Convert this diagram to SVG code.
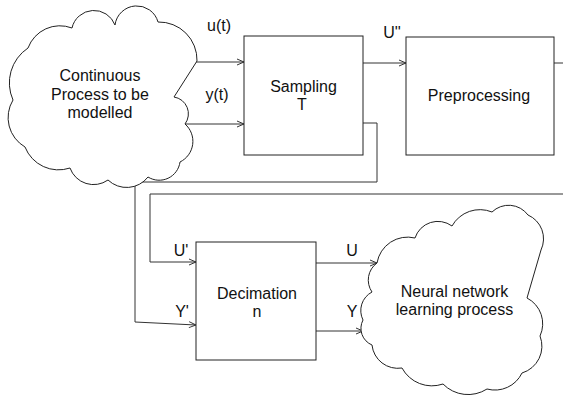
<svg xmlns="http://www.w3.org/2000/svg" width="563" height="398" viewBox="0 0 563 398">
<style>
  .txt { font-family: "Liberation Sans", Arial, sans-serif; font-size: 16px; fill: #111; text-anchor: middle; }
  .shape { fill: #fff; stroke: #222; stroke-width: 1; }
  .line { fill: none; stroke: #333; stroke-width: 1; }
</style>
<defs>
  <marker id="arr" viewBox="0 0 8 8" refX="8" refY="4" markerWidth="8" markerHeight="8" markerUnits="userSpaceOnUse" orient="auto">
    <polyline points="1,1 8,4 1,7" fill="none" stroke="#333" stroke-width="1"/>
  </marker>
</defs>
<rect width="563" height="398" fill="#fff"/>

<g id="connectors">
  <line class="line" x1="196" y1="62" x2="244" y2="62" marker-end="url(#arr)"/>
  <line class="line" x1="185" y1="124" x2="244" y2="124" marker-end="url(#arr)"/>
  <line class="line" x1="363" y1="63" x2="406" y2="63" marker-end="url(#arr)"/>
  <line class="line" x1="554" y1="63" x2="563" y2="63"/>
  <polyline class="line" points="363,123 377,123 377,182 135,182 135,322 196,325" marker-end="url(#arr)"/>
  <polyline class="line" points="563,194 150,194 150,262 196,262" marker-end="url(#arr)"/>
  <line class="line" x1="316" y1="263" x2="377" y2="263" marker-end="url(#arr)"/>
  <line class="line" x1="316" y1="331" x2="363" y2="331" marker-end="url(#arr)"/>
  <text class="txt" x="219" y="31">u(t)</text>
  <text class="txt" x="217" y="100">y(t)</text>
  <text class="txt" x="392" y="38">U''</text>
  <text class="txt" x="181" y="256">U'</text>
  <text class="txt" x="182" y="317">Y'</text>
  <text class="txt" x="352" y="256">U</text>
  <text class="txt" x="352" y="317">Y</text>
</g>

<g id="process">
  <path class="shape" d="M 28 48 A 34 34 0 0 1 72 28 A 22.5 22.5 0 0 1 115 25 A 22 22 0 0 1 158 22 A 38 38 0 0 1 197 61 L 174 97 A 17 17 0 0 1 185 124 A 23 23 0 0 1 180 162 A 21 21 0 0 1 148 177 A 27 27 0 0 1 108 180 A 25 25 0 0 1 70 168 A 36 36 0 0 1 25 147 A 34 34 0 0 1 13 100 A 42 42 0 0 1 28 48 Z"/>
  <text class="txt" x="100" y="81">Continuous</text>
  <text class="txt" x="100" y="99.5">Process to be</text>
  <text class="txt" x="100" y="118">modelled</text>
</g>

<g id="sampling">
  <rect class="shape" x="244" y="36" width="119" height="119"/>
  <text class="txt" x="303.5" y="92">Sampling</text>
  <text class="txt" x="302" y="110">T</text>
</g>

<g id="preprocessing">
  <rect class="shape" x="406" y="37" width="148" height="118"/>
  <text class="txt" x="479" y="101">Preprocessing</text>
</g>

<g id="decimation">
  <rect class="shape" x="196" y="242" width="120" height="118"/>
  <text class="txt" x="257" y="299">Decimation</text>
  <text class="txt" x="257" y="317">n</text>
</g>

<g id="neural">
  <path class="shape" d="M 377 263 A 31 31 0 0 1 415 238 A 24 24 0 0 1 452 226 A 32 32 0 0 1 492 212 A 24 24 0 0 1 528 215 A 26 26 0 0 1 541 250 L 527 298 A 29 29 0 0 1 540 336 A 28 28 0 0 1 522 373 A 30 30 0 0 1 487 389 A 35 35 0 0 1 443 384 A 34 34 0 0 1 402 368 A 26 26 0 0 1 372 345 A 18 18 0 0 1 363 320 A 21 21 0 0 1 372 292 A 21 21 0 0 1 377 263 Z"/>
  <text class="txt" x="454.5" y="297">Neural network</text>
  <text class="txt" x="454.5" y="315">learning process</text>
</g>
</svg>
